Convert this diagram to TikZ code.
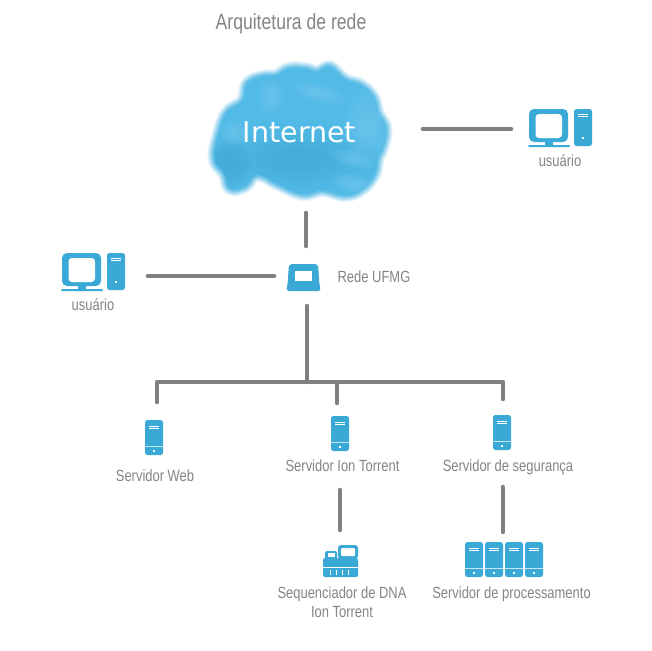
\documentclass[tikz,border=0pt]{standalone}
\usepackage{fontspec}
\setmainfont{Liberation Sans}
\newfontfamily\labelfont[FakeStretch=0.8]{Liberation Sans}
\newfontfamily\cloudfont{DejaVu Sans}
\definecolor{iconblue}{HTML}{3BA9D6}
\definecolor{wiregray}{HTML}{808080}
\definecolor{textgray}{HTML}{858585}
\definecolor{cloudblue}{HTML}{52BAE6}
\definecolor{clouddark}{HTML}{3A9FD0}
\definecolor{cloudlight}{HTML}{86D6F7}
\newcommand{\softblob}[6]{% x y rx ry angle colour
  \foreach \k in {1,0.88,...,0.1}{
    \fill[#6,opacity=0.07,rotate around={#5:(#1,#2)}] (#1,#2) ellipse[x radius=\k*#3,y radius=\k*#4];
  }}
\newcommand{\cloudpath}{plot[smooth cycle,tension=0.7] coordinates{
 (212,160)(216,135)(225,112)(241,100)(246,82)(262,75)(276,74)(288,67)(305,67)(318,70)(331,65)(346,78)(363,84)(376,97)(380,112)(388,127)(386,145)(380,160)(377,175)(365,190)(347,197)(323,192)(303,196)(278,186)(256,176)(243,188)(228,190)(222,175)}}
\tikzset{
  wire/.style={draw=wiregray,line width=4.6pt,line cap=round,line join=round},
  lbl/.style={text=textgray,font=\labelfont\fontsize{16.2}{19}\selectfont,inner sep=0pt,align=center},
  pics/srv/.style={code={
    \fill[iconblue,rounded corners=2.5pt] (-9,-17.5) rectangle (9,17.5);
    \draw[white,line width=0.7pt] (-5,-11.5) -- (5,-11.5) (-5,-9.5) -- (5,-9.5);
    \draw[white!70!iconblue,line width=0.7pt] (-9,8.5) -- (9,8.5);
    \fill[white] (-1,12.5) rectangle (1,14.5);
  }},
  pics/pc/.style={code={
    \fill[iconblue,rounded corners=5pt] (0,0) rectangle (39,33);
    \fill[white,rounded corners=3.5pt] (6.5,5) rectangle (33,29);
    \fill[iconblue] (16,33) rectangle (24,36);
    \fill[iconblue,rounded corners=1pt] (-1,36) rectangle (41,38);
    \fill[iconblue,rounded corners=2.5pt] (45,0) rectangle (63,37);
    \draw[white,line width=0.7pt] (49,5) -- (59,5) (49,7) -- (59,7);
    \fill[white] (53,27.5) rectangle (55,29.5);
  }}
}
\begin{document}
\begin{tikzpicture}[x=1pt,y=-1pt]
\useasboundingbox (0,0) rectangle (652,650);
\fill[white] (0,0) rectangle (652,650);
% cloud
\begin{scope}[shift={(298,131)},scale=0.97,shift={(-298,-131)}]
  \foreach \w/\o in {14/0.111,12.4/0.125,10.8/0.143,9.2/0.167,7.6/0.2,6/0.25,4.4/0.333,2.8/0.5}{\draw[cloudblue,opacity=\o,line width=\w pt,line join=round] \cloudpath;}
  \fill[cloudblue] \cloudpath;
  \begin{scope}
    \clip \cloudpath;
    \softblob{298}{160}{85}{35}{0}{clouddark}
    \softblob{225}{165}{25}{30}{0}{clouddark}
    \softblob{370}{125}{25}{40}{0}{cloudlight}
    \softblob{355}{160}{25}{9}{-15}{cloudlight}
    \softblob{320}{92}{32}{10}{-15}{cloudlight}
    \softblob{270}{95}{14}{20}{0}{cloudlight}
    \softblob{232}{133}{14}{14}{0}{cloudlight}
    \softblob{355}{185}{25}{10}{-10}{cloudlight}
  \end{scope}
\end{scope}
\node[text=white,font=\cloudfont\fontsize{28.5}{30}\selectfont,inner sep=0pt] (internet) at (299.5,132) {Internet};
\node[text=textgray,font=\labelfont\fontsize{22}{26}\selectfont,inner sep=0pt] (title) at (291,24) {Arquitetura de rede};
% icons
\pic at (529,109) {pc};
\pic at (62,253) {pc};
\pic at (154,437.5) {srv};
\pic at (340,433.5) {srv};
\pic at (502,432.5) {srv};
\foreach \x in {474,494,514,534}{\pic at (\x,559.5) {srv};}
% laptop
\fill[iconblue,rounded corners=3pt] (289,264) -- (318,264) -- (319.5,285) -- (321,291) -- (286,291) -- (287.5,285) -- cycle;
\fill[white] (295,271) rectangle (312,281);
% sequencer
\fill[iconblue,rounded corners=2pt] (323,558) rectangle (358,577);
\fill[iconblue,rounded corners=2pt] (325,551) rectangle (337,560);
\fill[white] (328,553) rectangle (335,557);
\fill[iconblue,rounded corners=3pt] (338,545) rectangle (358,559);
\fill[white,rounded corners=1pt] (341,548) rectangle (355,556);
\draw[white,line width=0.7pt] (323,567) -- (358,567);
\draw[white,line width=0.8pt] (330,570) -- (330,575) (336,570) -- (336,575) (342,570) -- (342,575) (348,570) -- (348,575);
% labels
\node[lbl] (userR) at (560,161) {usuário};
\node[lbl] (userL) at (93,305) {usuário};
\node[lbl] (ufmg) at (374,277) {Rede UFMG};
\node[lbl] (web) at (155,476) {Servidor Web};
\node[lbl] (ion) at (342.5,466) {Servidor Ion Torrent};
\node[lbl] (seg) at (508,467.5) {Servidor de segurança};
\node[lbl] (dna) at (342,602.5) {Sequenciador de DNA\\Ion Torrent};
\node[lbl] (proc) at (511.5,594) {Servidor de processamento};
% connector ends
\coordinate (cloudR) at (423,129);
\coordinate (pcR) at (511,129);
\coordinate (cloudB) at (306,213);
\coordinate (lapT) at (306,246);
\coordinate (pcL) at (148,276);
\coordinate (lapL) at (274,276);
\coordinate (lapB) at (307,306);
\coordinate (bus) at (307,382);
\coordinate (busL) at (157,382);
\coordinate (busM) at (337,382);
\coordinate (busR) at (503,382);
\coordinate (srvW) at (157,402);
\coordinate (srvI) at (337,403);
\coordinate (srvS) at (503,399);
\coordinate (ionB) at (340,490);
\coordinate (seqT) at (340,530);
\coordinate (segB) at (503,487);
\coordinate (procT) at (503,532);
% connectors
\draw[wire] (cloudR) -- (pcR);
\draw[wire] (cloudB) -- (lapT);
\draw[wire] (pcL) -- (lapL);
\draw[wire] (lapB) -- (bus);
\draw[wire] (srvW) -- (busL) -- (busR) -- (srvS);
\draw[wire] (busM) -- (srvI);
\draw[wire] (ionB) -- (seqT);
\draw[wire] (segB) -- (procT);
\end{tikzpicture}
\end{document}
